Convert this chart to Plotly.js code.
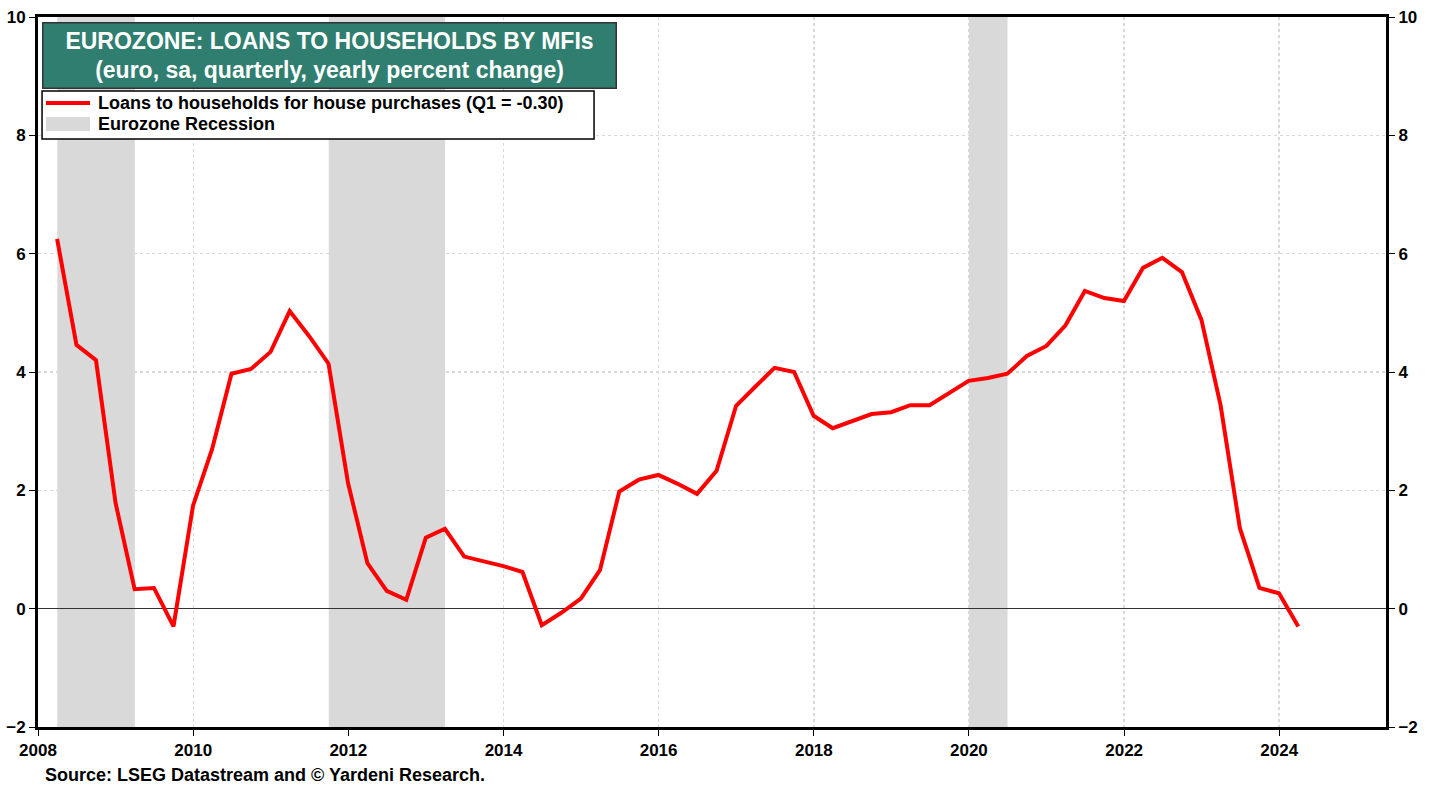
<!DOCTYPE html>
<html>
<head>
<meta charset="utf-8">
<script src="https://cdn.plot.ly/plotly-3.0.1.min.js"></script>
<style>
html,body{margin:0;padding:0;background:#fff;}
#chart{width:1438px;height:787px;}
</style>
</head>
<body>
<div id="chart"></div>
<script>
// Quarter-end dates, Q1 2008 .. Q1 2024
const quarters = [
"2008-03-31","2008-06-30","2008-09-30","2008-12-31",
"2009-03-31","2009-06-30","2009-09-30","2009-12-31",
"2010-03-31","2010-06-30","2010-09-30","2010-12-31",
"2011-03-31","2011-06-30","2011-09-30","2011-12-31",
"2012-03-31","2012-06-30","2012-09-30","2012-12-31",
"2013-03-31","2013-06-30","2013-09-30","2013-12-31",
"2014-03-31","2014-06-30","2014-09-30","2014-12-31",
"2015-03-31","2015-06-30","2015-09-30","2015-12-31",
"2016-03-31","2016-06-30","2016-09-30","2016-12-31",
"2017-03-31","2017-06-30","2017-09-30","2017-12-31",
"2018-03-31","2018-06-30","2018-09-30","2018-12-31",
"2019-03-31","2019-06-30","2019-09-30","2019-12-31",
"2020-03-31","2020-06-30","2020-09-30","2020-12-31",
"2021-03-31","2021-06-30","2021-09-30","2021-12-31",
"2022-03-31","2022-06-30","2022-09-30","2022-12-31",
"2023-03-31","2023-06-30","2023-09-30","2023-12-31",
"2024-03-31"
];
const loansHousePurchase = [
6.25, 4.46, 4.20, 1.79,
0.33, 0.35, -0.30, 1.74,
2.70, 3.97, 4.05, 4.34,
5.03, 4.61, 4.14, 2.12,
0.77, 0.30, 0.15, 1.20,
1.35, 0.88, 0.80, 0.72,
0.62, -0.28, -0.07, 0.17,
0.65, 1.98, 2.18, 2.26,
2.11, 1.94, 2.33, 3.43,
3.75, 4.07, 4.00, 3.26,
3.05, 3.17, 3.29, 3.32,
3.44, 3.44, 3.65, 3.85,
3.90, 3.97, 4.27, 4.44,
4.79, 5.37, 5.25, 5.20,
5.76, 5.93, 5.69, 4.88,
3.44, 1.36, 0.35, 0.26,
-0.30
];
const recessionStarts = ["2008-04-01","2011-10-01","2020-01-01"];
const recessionEnds   = ["2009-04-01","2013-04-01","2020-07-01"];
const yTicks = [-2, 0, 2, 4, 6, 8, 10];
const xTickYears = ["2008","2010","2012","2014","2016","2018","2020","2022","2024"];
const seriesName = "Loans to households for house purchases (Q1 = -0.30)";
const recessionName = "Eurozone Recession";

const FONT = "Liberation Sans, Arial, sans-serif";
const RED = "#ff0000", GREY = "#d9d9d9";

const shapes = recessionStarts.map((s, i) => ({
  type: "rect", xref: "x", yref: "paper",
  x0: s, x1: recessionEnds[i], y0: 0, y1: 1,
  fillcolor: GREY, line: {width: 0}, layer: "below"
}));
// legend box (drawn as layout decoration)
shapes.push(
  {type: "rect", xref: "paper", yref: "paper", x0: 0.003, x1: 0.4125, y0: 0.8282, y1: 0.8958,
   fillcolor: "#fff", line: {color: "#000", width: 1.5}, layer: "above"},
  {type: "line", xref: "paper", yref: "paper", x0: 0.0059, x1: 0.0386, y0: 0.8789, y1: 0.8789,
   line: {color: RED, width: 4}, layer: "above"},
  {type: "rect", xref: "paper", yref: "paper", x0: 0.0059, x1: 0.0386, y0: 0.8394, y1: 0.8592,
   fillcolor: GREY, line: {width: 0}, layer: "above"}
);

const traces = [
  {
    x: quarters, y: loansHousePurchase, type: "scatter", mode: "lines",
    name: seriesName, line: {color: RED, width: 4}
  },
  {
    x: [quarters[0]], y: [null], type: "scatter", mode: "lines",
    yaxis: "y2", showlegend: false, hoverinfo: "skip"
  }
];

const tickFont = {family: FONT, size: 17, color: "#000", weight: "bold"};

const layout = {
  width: 1438, height: 787,
  margin: {l: 38, r: 52, t: 17, b: 60},
  paper_bgcolor: "#fff", plot_bgcolor: "#fff",
  showlegend: false,
  xaxis: {
    type: "date",
    range: ["2008-01-01", "2025-05-18"],
    tickvals: xTickYears.map(y => y + "-01-01"),
    ticktext: xTickYears,
    ticks: "outside", ticklen: 6, tickcolor: "#000", tickwidth: 1,
    showline: true, linecolor: "#000", linewidth: 3, mirror: true,
    showgrid: true, gridcolor: "#d9d9d9", griddash: "dot", gridwidth: 1.5,
    zeroline: false, tickfont: tickFont
  },
  yaxis: {
    range: [-2, 10], tickvals: yTicks,
    ticks: "outside", ticklen: 6, tickcolor: "#000", tickwidth: 1,
    showline: true, linecolor: "#000", linewidth: 3,
    showgrid: true, gridcolor: "#d9d9d9", griddash: "dot", gridwidth: 1.5,
    zeroline: true, zerolinecolor: "#333", zerolinewidth: 1.2,
    tickfont: tickFont
  },
  yaxis2: {
    range: [-2, 10], tickvals: yTicks, overlaying: "y", side: "right",
    ticks: "outside", ticklen: 6, tickcolor: "#000", tickwidth: 1,
    showline: true, linecolor: "#000", linewidth: 3,
    showgrid: false, zeroline: false, tickfont: tickFont
  },
  shapes: shapes,
  annotations: [
    {
      xref: "paper", yref: "paper", x: 0.003, y: 0.993,
      xanchor: "left", yanchor: "top",
      text: "<b>EUROZONE: LOANS TO HOUSEHOLDS BY MFIs</b><br><b>(euro, sa, quarterly, yearly percent change)</b>",
      showarrow: false, align: "center",
      width: 570, height: 62,
      bgcolor: "#2f7e6f", bordercolor: "#333", borderwidth: 1.5,
      font: {family: FONT, size: 23, color: "#fff"}
    },
    {
      xref: "paper", yref: "paper", x: 0.043, y: 0.8789,
      xanchor: "left", yanchor: "middle", showarrow: false,
      text: "<b>" + seriesName + "</b>",
      font: {family: FONT, size: 18, color: "#000"}
    },
    {
      xref: "paper", yref: "paper", x: 0.043, y: 0.8493,
      xanchor: "left", yanchor: "middle", showarrow: false,
      text: "<b>" + recessionName + "</b>",
      font: {family: FONT, size: 18, color: "#000"}
    },
    {
      xref: "paper", yref: "paper", x: 0.004, y: -0.051,
      xanchor: "left", yanchor: "top",
      text: "<b>Source: LSEG Datastream and © Yardeni Research.</b>",
      showarrow: false,
      font: {family: FONT, size: 18, color: "#000"}
    }
  ]
};

Plotly.newPlot("chart", traces, layout, {displayModeBar: false, staticPlot: true});
</script>
</body>
</html>
